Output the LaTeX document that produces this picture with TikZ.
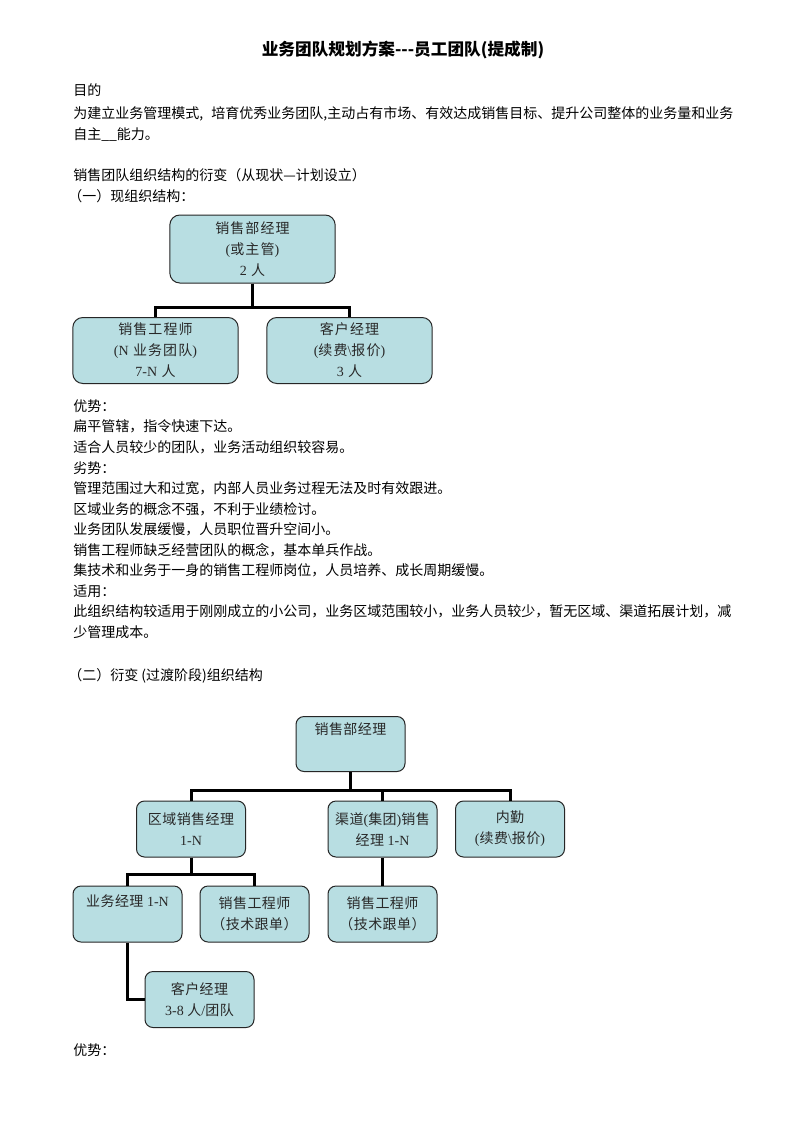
\documentclass[tikz,border=0pt]{standalone}
\usepackage{fontspec}
\setmainfont{Noto Sans CJK SC}
\newfontfamily\lat{Liberation Serif}
\newfontfamily\boxwide{Noto Sans CJK SC}[LetterSpace=8]
\newfontfamily\boxmid{Noto Sans CJK SC}[LetterSpace=3]
\XeTeXlinebreaklocale "zh"
\XeTeXlinebreakskip=0pt plus 2pt
\definecolor{boxfill}{RGB}{184,222,226}
\definecolor{boxtext}{RGB}{40,40,40}
\tikzset{
  body/.style={anchor=base west, inner sep=0pt, font=\fontsize{10.5pt}{12pt}\selectfont},
  titletext/.style={anchor=center, inner sep=0pt, font=\bfseries\fontsize{12.5pt}{14pt}\selectfont},
  orgbox/.style={draw=black!85, line width=0.75pt, fill=boxfill, rounded corners=6pt,
    align=center, text=boxtext, inner sep=0pt,
    font=\boxmid\fontsize{10.5pt}{15.75pt}\selectfont,
    minimum width=81.75pt, minimum height=42pt},
  bigbox/.style={orgbox, rounded corners=7.5pt, font=\boxwide\fontsize{10.5pt}{15.75pt}\selectfont,
    minimum width=124pt, minimum height=49.5pt},
  link/.style={line width=2.25pt, black}
}
\begin{document}
\begin{tikzpicture}[x=0.75pt, y=-0.75pt]
\useasboundingbox (0,0) rectangle (793,1122);
\fill[white] (0,0) rectangle (793,1122);

% title and text
\node[titletext] (title) at (403,50) {业务团队规划方案-{}-{}-员工团队(提成制)};
\node[body] (t1) at (73,95) {目的};
\node[body] (t2) at (73,118) {\hbox to 495pt{为建立业务管理模式, 培育优秀业务团队,主动占有市场、有效达成销售目标、提升公司整体的业务量和业务}};
\node[body] (t3) at (73,139) {自主\_\_能力。};
\node[body] (t4) at (73,180) {销售团队组织结构的衍变（从现状—计划设立）};
\node[body] (t5) at (68,201) {（一）现组织结构：};

% chart 1
\node[bigbox, minimum height=51pt] (m1) at (252.5,249) {销售部经理\\{\lat (}或主管{\lat )}\\{\lat 2} 人};
\node[bigbox] (s1) at (155.5,350.5) {销售工程师\\{\lat (N} 业务团队{\lat )}\\{\lat 7-N} 人};
\node[bigbox] (c1) at (349.5,350.5) {客户经理\\{\lat (}续费{\lat\textbackslash}报价{\lat )}\\{\lat 3} 人};
\draw[link] (m1.south) -- ++(0,24) -| (s1.north);
\draw[link] (m1.south) -- ++(0,24) -| (c1.north);

\node[body] (a1) at (73,411) {优势：};
\node[body] (a2) at (73,431.5) {扁平管辖，指令快速下达。};
\node[body] (a3) at (73,452) {适合人员较少的团队，业务活动组织较容易。};
\node[body] (a4) at (73,473) {劣势：};
\node[body] (a5) at (73,493.5) {管理范围过大和过宽，内部人员业务过程无法及时有效跟进。};
\node[body] (a6) at (73,514) {区域业务的概念不强，不利于业绩检讨。};
\node[body] (a7) at (73,534.5) {业务团队发展缓慢，人员职位晋升空间小。};
\node[body] (a8) at (73,555) {销售工程师缺乏经营团队的概念，基本单兵作战。};
\node[body] (a9) at (73,575.5) {集技术和业务于一身的销售工程师岗位，人员培养、成长周期缓慢。};
\node[body] (a10) at (73,596) {适用：};
\node[body] (a11) at (73,616.5) {\hbox to 495pt{此组织结构较适用于刚刚成立的小公司，业务区域范围较小，业务人员较少，暂无区域、渠道拓展计划，减}};
\node[body] (a12) at (73,637) {少管理成本。};
\node[body] (a13) at (68,680) {（二）衍变 (过渡阶段)组织结构};

% chart 2
\node[orgbox, minimum height=41.25pt] (A) at (350.5,744) {销售部经理\\[2pt]\strut};
\node[orgbox] (B) at (191,829) {区域销售经理\\{\lat 1-N}};
\node[orgbox] (C) at (382.5,829) {渠道{\lat (}集团{\lat )}销售\\经理 {\lat 1-N}};
\node[orgbox] (D) at (510,829) {内勤\\{\lat (}续费{\lat\textbackslash}报价{\lat )}};
\node[orgbox] (E) at (127.5,914) {业务经理 {\lat 1-N}\\\strut};
\node[orgbox] (F) at (254.5,914) {销售工程师\\（技术跟单）};
\node[orgbox] (G) at (382.5,914) {销售工程师\\（技术跟单）};
\node[orgbox] (H) at (199.5,999.5) {客户经理\\{\lat 3-8} 人{\lat /}团队};

\draw[link] (A.south) -- ++(0,18.5) -| (B.north);
\draw[link] (A.south) -- ++(0,18.5) -| (C.north);
\draw[link] (A.south) -- ++(0,18.5) -| (D.north);
\draw[link] (B.south) -- ++(0,17) -| (E.north);
\draw[link] (B.south) -- ++(0,17) -| (F.north);
\draw[link] (C.south) -- (G.north);
\draw[link] (E.south) |- (H.west);

\node[body] (b1) at (73,1055) {优势：};
\end{tikzpicture}
\end{document}
